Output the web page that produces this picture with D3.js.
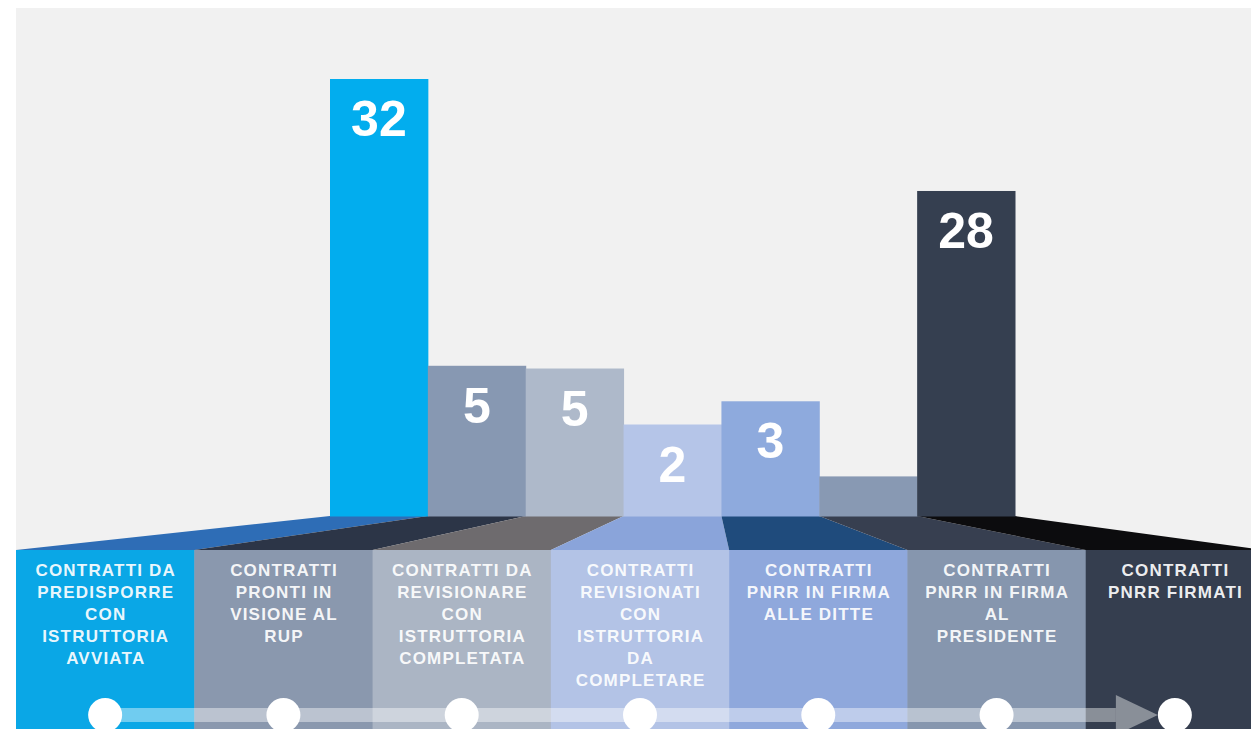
<!DOCTYPE html>
<html>
<head>
<meta charset="utf-8">
<script src="https://cdn.jsdelivr.net/npm/d3@7"></script>
<style>
  body { margin: 0; background: #fff; }
  svg { display: block; }
  text { font-family: 'Liberation Sans', Arial, sans-serif; font-weight: bold; fill: #fff; }
</style>
</head>
<body>
<div class="canvas"></div>
<script>
//? DATA
const stages = [
  ['CONTRATTI DA', 'PREDISPORRE', 'CON', 'ISTRUTTORIA', 'AVVIATA'],
  ['CONTRATTI', 'PRONTI IN', 'VISIONE AL', 'RUP'],
  ['CONTRATTI DA', 'REVISIONARE', 'CON', 'ISTRUTTORIA', 'COMPLETATA'],
  ['CONTRATTI', 'REVISIONATI', 'CON', 'ISTRUTTORIA', 'DA', 'COMPLETARE'],
  ['CONTRATTI', 'PNRR IN FIRMA', 'ALLE DITTE'],
  ['CONTRATTI', 'PNRR IN FIRMA', 'AL', 'PRESIDENTE'],
  ['CONTRATTI', 'PNRR FIRMATI']
]
// number printed on each bar (the 6th bar has none)
const counts = [32, 5, 5, 2, 3, null, 28]
// the infographic is not to scale: drawn height of each bar in count units
const drawnHeights = [32, 11, 10.8, 6.7, 8.4, 2.9, 23.8]

//? COLOURS
const barColors = ['#02adee', '#8798b2', '#aeb9ca', '#b5c5e8', '#8eaadd', '#8899b3', '#353f50']
const foldColors = ['#2e6db6', '#2c3547', '#6e6b6e', '#8aa4da', '#1f4b7c', '#373f50', '#0c0c0e']
const panelColors = ['#0aa7e6', '#8a98ae', '#abb5c4', '#b3c3e6', '#8fa8dc', '#8696ae', '#353e4f']

const dims = { width: 1251, height: 729 }
const base = 516
const foldBottom = 550
const lineY = 715

const svg = d3
  .select('.canvas')
  .append('svg')
  .attr('width', dims.width)
  .attr('height', dims.height)

svg
  .append('rect')
  .attr('x', 16)
  .attr('y', 8)
  .attr('width', dims.width - 16)
  .attr('height', dims.height - 8)
  .attr('fill', '#f1f1f1')

const idx = d3.range(stages.length)
const xBar = d3.scaleBand().domain(idx).range([330, 1015])
const xPanel = d3.scaleBand().domain(idx).range([16, 1264])
const y = d3.scaleLinear().domain([0, 32]).range([base, 79])

//? FOLDS: bar bottom edge down to panel top edge
const line = d3.line()
svg
  .selectAll('path.fold')
  .data(idx)
  .enter()
  .append('path')
  .attr('class', 'fold')
  .attr('fill', i => foldColors[i])
  .attr('d', i => line([
    [xBar(i), base],
    [xBar(i) + xBar.bandwidth(), base],
    [xPanel(i) + xPanel.bandwidth(), foldBottom],
    [xPanel(i), foldBottom]
  ]) + 'Z')

//? BARS
svg
  .selectAll('rect.bar')
  .data(idx)
  .enter()
  .append('rect')
  .attr('class', 'bar')
  .attr('x', i => xBar(i))
  .attr('y', i => y(drawnHeights[i]))
  .attr('width', xBar.bandwidth() + 0.5)
  .attr('height', i => base - y(drawnHeights[i]) + 0.5)
  .attr('fill', i => barColors[i])

svg
  .selectAll('text.count')
  .data(idx.filter(i => counts[i] !== null))
  .enter()
  .append('text')
  .attr('class', 'count')
  .attr('x', i => xBar(i) + xBar.bandwidth() / 2)
  .attr('y', i => y(drawnHeights[i]) + 57)
  .attr('text-anchor', 'middle')
  .attr('font-size', 50)
  .text(i => counts[i])

//? PANELS
svg
  .selectAll('rect.panel')
  .data(idx)
  .enter()
  .append('rect')
  .attr('class', 'panel')
  .attr('x', i => xPanel(i))
  .attr('y', foldBottom)
  .attr('width', xPanel.bandwidth() + 0.5)
  .attr('height', dims.height - foldBottom)
  .attr('fill', i => panelColors[i])

const labels = svg
  .selectAll('text.stage')
  .data(idx)
  .enter()
  .append('text')
  .attr('class', 'stage')
  .attr('text-anchor', 'middle')
  .attr('font-size', 17)
  .attr('letter-spacing', 1.2)
  .attr('fill-opacity', 0.93)

labels
  .selectAll('tspan')
  .data(i => stages[i].map(t => ({ t, i })))
  .enter()
  .append('tspan')
  .attr('x', d => xPanel(d.i) + xPanel.bandwidth() / 2 + 0.6)
  .attr('y', (d, j) => 576 + j * 22)
  .text(d => d.t)

//? TIMELINE
const cx = i => xPanel(i) + xPanel.bandwidth() / 2
const r = 17
const tip = cx(idx.length - 1) - r
const arrowBase = tip - 42

svg
  .append('rect')
  .attr('x', cx(0))
  .attr('y', lineY - 7)
  .attr('width', arrowBase - cx(0))
  .attr('height', 14)
  .attr('fill', '#fff')
  .attr('fill-opacity', 0.42)

svg
  .append('path')
  .attr('d', line([[arrowBase, lineY - 20], [tip, lineY], [arrowBase, lineY + 20]]) + 'Z')
  .attr('fill', '#fff')
  .attr('fill-opacity', 0.42)

svg
  .selectAll('circle.step')
  .data(idx)
  .enter()
  .append('circle')
  .attr('class', 'step')
  .attr('cx', cx)
  .attr('cy', lineY)
  .attr('r', r)
  .attr('fill', '#fff')
</script>
</body>
</html>
